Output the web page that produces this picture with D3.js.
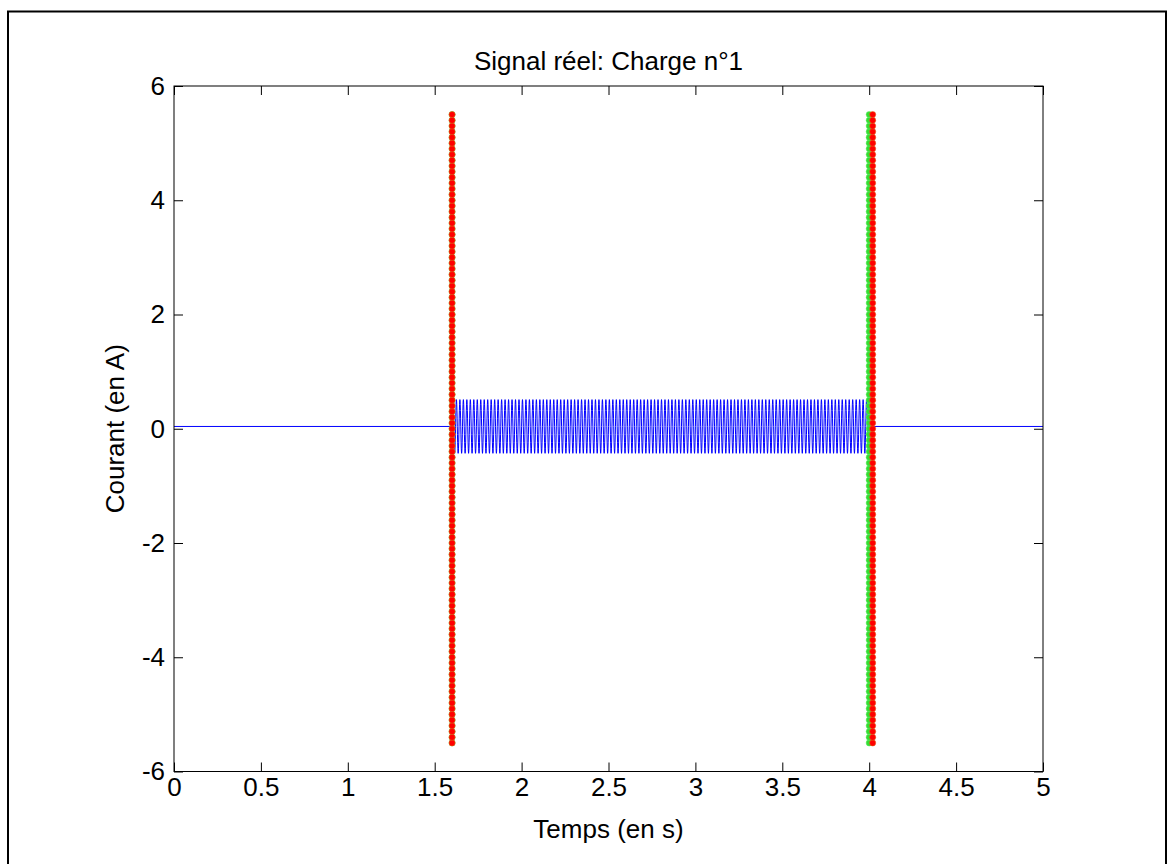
<!DOCTYPE html>
<html>
<head>
<meta charset="utf-8">
<script src="https://cdn.jsdelivr.net/npm/d3@7"></script>
<style>
  html, body { margin: 0; padding: 0; background: #fff; }
  svg text { font-family: "Liberation Sans", Arial, sans-serif; fill: #000; }
</style>
</head>
<body>
<svg id="chart" width="1171" height="864"></svg>
<script>
// ---- data ----
const title = "Signal réel: Charge n°1";
const xLabel = "Temps (en s)";
const yLabel = "Courant (en A)";
const xTicks = [0, 0.5, 1, 1.5, 2, 2.5, 3, 3.5, 4, 4.5, 5];
const yTicks = [-6, -4, -2, 0, 2, 4, 6];
const xDomain = [0, 5];
const yDomain = [-6, 6];

// flat parts of the current (time, value)
const idleBefore = [[0, 0.04], [1.6, 0.04]];
const idleAfter = [[4.0, 0.04], [5, 0.04]];
// load switched on: 50 Hz current, one period of samples
const loadStart = 1.6;
const loadEnd = 4.0;
const loadCycles = 120;
const cycleSamples = [0.04, 0.185, 0.316, 0.420, 0.487, 0.51, 0.487, 0.420, 0.316, 0.185,
                      0.04, -0.105, -0.236, -0.340, -0.407, -0.43, -0.407, -0.340, -0.236, -0.105];

// detection markers (vertical columns of dots)
const markerLevels = [
 -5.5,-5.4,-5.3,-5.2,-5.1,-5.0,-4.9,-4.8,-4.7,-4.6,-4.5,-4.4,-4.3,-4.2,-4.1,-4.0,-3.9,-3.8,-3.7,-3.6,
 -3.5,-3.4,-3.3,-3.2,-3.1,-3.0,-2.9,-2.8,-2.7,-2.6,-2.5,-2.4,-2.3,-2.2,-2.1,-2.0,-1.9,-1.8,-1.7,-1.6,
 -1.5,-1.4,-1.3,-1.2,-1.1,-1.0,-0.9,-0.8,-0.7,-0.6,-0.5,-0.4,-0.3,-0.2,-0.1,0.0,0.1,0.2,0.3,0.4,
 0.5,0.6,0.7,0.8,0.9,1.0,1.1,1.2,1.3,1.4,1.5,1.6,1.7,1.8,1.9,2.0,2.1,2.2,2.3,2.4,
 2.5,2.6,2.7,2.8,2.9,3.0,3.1,3.2,3.3,3.4,3.5,3.6,3.7,3.8,3.9,4.0,4.1,4.2,4.3,4.4,
 4.5,4.6,4.7,4.8,4.9,5.0,5.1,5.2,5.3,5.4,5.5];
const greenMarkerTimes = [1.6, 4.0];
const redMarkerTimes = [1.6, 4.02];

// ---- drawing ----
const svg = d3.select("#chart");
const mLeft = 174, mRight = 1043, mTop = 86, mBottom = 771.5;
const FS = 26;
const x = d3.scaleLinear().domain(xDomain).range([mLeft, mRight]);
const y = d3.scaleLinear().domain(yDomain).range([mBottom, mTop]);

// figure frame
svg.append("rect").attr("x", 8).attr("y", 11.5).attr("width", 1158).attr("height", 860)
  .attr("fill", "none").attr("stroke", "#000").attr("stroke-width", 2);

// signal
const loadSeries = [];
const dtSample = (loadEnd - loadStart) / (loadCycles * cycleSamples.length);
for (let c = 0; c < loadCycles; c++) {
  cycleSamples.forEach((v, k) => {
    loadSeries.push([loadStart + (c * cycleSamples.length + k) * dtSample, v]);
  });
}
loadSeries.push([loadEnd, cycleSamples[0]]);

const line = d3.line().x(d => x(d[0])).y(d => y(d[1]));
const g = svg.append("g");
[idleBefore, loadSeries, idleAfter].forEach(s => {
  g.append("path").attr("d", line(s)).attr("fill", "none")
    .attr("stroke", "#0000ff").attr("stroke-width", 1);
});

// markers
function drawMarkers(times, color, edge) {
  times.forEach(t => {
    g.selectAll(null).data(markerLevels).enter().append("circle")
      .attr("cx", x(t)).attr("cy", d => y(d)).attr("r", 3.1)
      .attr("fill", color).attr("stroke", edge).attr("stroke-width", 0.5);
  });
}
drawMarkers(greenMarkerTimes, "#33dd33", "#66ee66");
drawMarkers(redMarkerTimes, "#ff0000", "#e07020");

// axes box
svg.append("rect").attr("x", mLeft).attr("y", mTop).attr("width", mRight - mLeft).attr("height", mBottom - mTop)
  .attr("fill", "none").attr("stroke", "#000").attr("stroke-width", 1);

const fmt = d => String(d);
const tickLen = 9;
const axB = d3.axisBottom(x).tickValues(xTicks).tickSizeInner(-tickLen).tickSizeOuter(0).tickPadding(6)
  .tickFormat(fmt);
const axT = d3.axisTop(x).tickValues(xTicks).tickSizeInner(-tickLen).tickSizeOuter(0).tickFormat("");
const axL = d3.axisLeft(y).tickValues(yTicks).tickSizeInner(-tickLen).tickSizeOuter(0).tickPadding(9)
  .tickFormat(fmt);
const axR = d3.axisRight(y).tickValues(yTicks).tickSizeInner(-tickLen).tickSizeOuter(0).tickFormat("");

function styleAxis(sel) {
  sel.select(".domain").remove();
  sel.selectAll("text").attr("font-size", FS).attr("font-family", "Liberation Sans, Arial, sans-serif").attr("fill", "#000");
  sel.selectAll("line").attr("stroke", "#000");
}
svg.append("g").attr("transform", `translate(0,${mBottom})`).call(axB).call(styleAxis);
svg.append("g").attr("transform", `translate(0,${mTop})`).call(axT).call(styleAxis);
svg.append("g").attr("transform", `translate(${mLeft},0)`).call(axL).call(styleAxis);
svg.append("g").attr("transform", `translate(${mRight},0)`).call(axR).call(styleAxis);

// labels
svg.append("text").attr("x", (mLeft + mRight) / 2).attr("y", 70).attr("text-anchor", "middle")
  .attr("font-size", FS).text(title);
svg.append("text").attr("x", (mLeft + mRight) / 2).attr("y", 838).attr("text-anchor", "middle")
  .attr("font-size", FS).text(xLabel);
svg.append("text").attr("transform", `translate(124,${(mTop + mBottom) / 2}) rotate(-90)`)
  .attr("text-anchor", "middle").attr("font-size", FS).text(yLabel);
</script>
</body>
</html>
